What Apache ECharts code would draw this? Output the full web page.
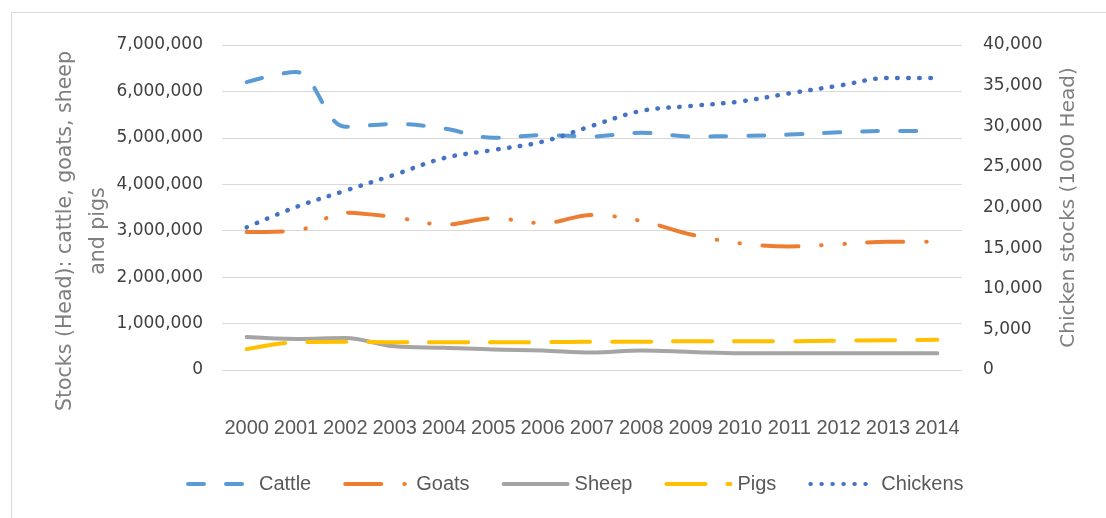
<!DOCTYPE html>
<html>
<head>
<meta charset="utf-8">
<script src="https://cdn.jsdelivr.net/npm/echarts@6/dist/echarts.min.js"></script>
<style>
html,body{margin:0;padding:0;background:#fff;}
#chart{width:1106px;height:518px;}
</style>
</head>
<body>
<div id="chart"></div>
<script>
const years = ['2000','2001','2002','2003','2004','2005','2006','2007','2008','2009','2010','2011','2012','2013','2014'];
const cattle = [6200000, 6420000, 5240000, 5300000, 5200000, 5000000, 5060000, 5030000, 5110000, 5030000, 5040000, 5070000, 5120000, 5150000, 5150000];
const goats = [2970000, 3000000, 3390000, 3290000, 3130000, 3270000, 3160000, 3340000, 3210000, 2920000, 2730000, 2660000, 2710000, 2760000, 2760000];
const sheep = [710000, 670000, 690000, 510000, 480000, 440000, 420000, 375000, 420000, 390000, 360000, 360000, 360000, 360000, 360000];
const pigs = [450000, 600000, 610000, 600000, 600000, 600000, 600000, 610000, 610000, 620000, 620000, 620000, 630000, 640000, 650000];
const chickens = [17560, 20060, 22070, 24040, 26090, 27080, 28100, 30050, 31900, 32490, 33050, 34050, 34990, 35940, 35940];
const leftTicks = {min: 0, max: 7000000, interval: 1000000};
const rightTicks = {min: 0, max: 40000, interval: 5000};
const leftTitle = 'Stocks (Head): cattle, goats, sheep\nand pigs';
const rightTitle = 'Chicken stocks (1000 Head)';

const fmt = v => String(v).replace(/\B(?=(\d{3})+(?!\d))/g, ',');
const chart = echarts.init(document.getElementById('chart'), null, {renderer: 'canvas'});
const mk = (name, data, color, dash, yi, width) => ({
  name, type: 'line', data, yAxisIndex: yi, symbol: 'none', smooth: 0.35,
  lineStyle: {color, width: width || 4, type: dash, cap: 'round', join: 'round'},
  itemStyle: {color}
});
chart.setOption({
  animation: false,
  backgroundColor: '#ffffff',
  graphic: [{type: 'rect', shape: {x: 11.5, y: 12.5, width: 1200, height: 600}, style: {fill: 'none', stroke: '#d9d9d9', lineWidth: 1}, silent: true, z: -1}],
  grid: {left: 222, right: 144, top: 45, bottom: 148, containLabel: false},
  legend: {
    left: 181, top: 469, itemWidth: 64, itemHeight: 14, itemGap: 32,
    itemStyle: {opacity: 0},
    lineStyle: {width: 4, cap: 'round'},
    textStyle: {fontFamily: 'Liberation Sans', fontSize: 20, color: '#595959', padding: [0, 0, 0, 2]},
    data: ['Cattle', 'Goats', 'Sheep', 'Pigs', 'Chickens']
  },
  xAxis: {
    type: 'category', data: years, boundaryGap: true,
    axisLine: {show: true, lineStyle: {color: '#d9d9d9', width: 1}},
    axisTick: {show: false},
    axisLabel: {interval: 0, margin: 48, fontFamily: 'Liberation Sans', fontSize: 20, color: '#595959'}
  },
  yAxis: [{
    type: 'value', min: leftTicks.min, max: leftTicks.max, interval: leftTicks.interval,
    name: leftTitle, nameLocation: 'middle', nameGap: 107, nameMoveOverlap: false,
    nameTextStyle: {fontFamily: 'DejaVu Sans', fontSize: 20.5, color: '#7f7f7f', lineHeight: 33, padding: [0, 47, 0, 0]},
    axisLine: {show: false}, axisTick: {show: false},
    axisLabel: {margin: 19, fontFamily: 'DejaVu Sans', fontSize: 17, color: '#404040', formatter: fmt},
    splitLine: {lineStyle: {color: '#d9d9d9', width: 1}}
  }, {
    type: 'value', min: rightTicks.min, max: rightTicks.max, interval: rightTicks.interval,
    name: rightTitle, nameLocation: 'middle', nameGap: 96, nameMoveOverlap: false,
    nameTextStyle: {fontFamily: 'DejaVu Sans', fontSize: 20, color: '#7f7f7f', lineHeight: 22},
    axisLine: {show: false}, axisTick: {show: false},
    axisLabel: {margin: 21, fontFamily: 'DejaVu Sans', fontSize: 17, color: '#404040', formatter: fmt},
    splitLine: {show: false}
  }],
  series: [
    mk('Cattle', cattle, '#5B9BD5', [16, 22], 0),
    mk('Goats', goats, '#ED7D31', [36, 23, 0.5, 22.5, 0.5, 22.5], 0),
    mk('Sheep', sheep, '#A5A5A5', 'solid', 0),
    mk('Pigs', pigs, '#FFC000', [39, 22], 0),
    mk('Chickens', chickens, '#4472C4', [0.5, 10.5], 1, 4.5)
  ]
});
</script>
</body>
</html>
